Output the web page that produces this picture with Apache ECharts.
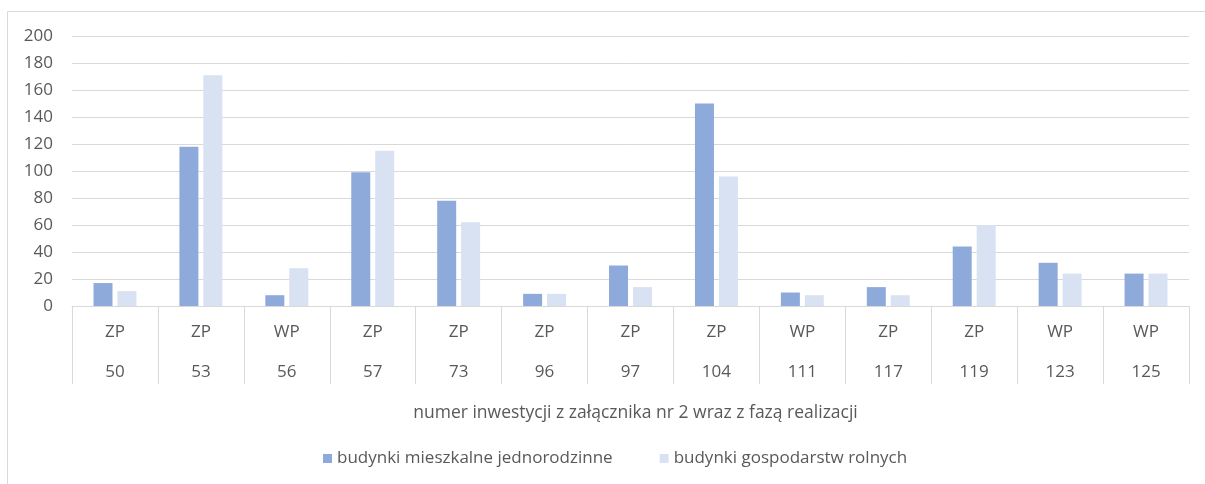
<!DOCTYPE html>
<html><head><meta charset="utf-8">
<script src="https://cdn.jsdelivr.net/npm/echarts@6/dist/echarts.min.js"></script>
<style>html,body{margin:0;padding:0;background:#fff}#c{width:1205px;height:484px}</style>
</head><body><div id="c"></div>
<script>
const phases = ['ZP','ZP','WP','ZP','ZP','ZP','ZP','ZP','WP','ZP','ZP','WP','WP'];
const numbers = ['50','53','56','57','73','96','97','104','111','117','119','123','125'];
const seriesNames = ['budynki mieszkalne jednorodzinne','budynki gospodarstw rolnych'];
const singleFamily = [17,118,8,99,78,9,30,150,10,14,44,32,24];
const farmBuildings = [11,171,28,115,62,9,14,96,8,8,60,24,24];
const yTicks = [0,20,40,60,80,100,120,140,160,180,200];
const axisTitle = 'numer inwestycji z załącznika nr 2 wraz z fazą realizacji';

const categories = phases.map((p,i)=>p+'\n'+numbers[i]);
const FONT = 'Open Sans';
const TXT = '#595959';
const chart = echarts.init(document.getElementById('c'), null, {renderer:'canvas'});
chart.setOption({
  animation:false,
  textStyle:{fontFamily:FONT},
  graphic:[{type:'rect',shape:{x:7.5,y:11.5,width:1210,height:480},style:{fill:'none',stroke:'#d9d9d9',lineWidth:1},silent:true,z:-1}],
  grid:{left:72,right:16,top:36,bottom:178},
  legend:{bottom:12,left:318,itemWidth:9,itemHeight:9,itemGap:47,icon:'rect',
    textStyle:{color:TXT,fontSize:17,fontFamily:FONT},data:seriesNames},
  xAxis:{type:'category',data:categories,
    axisLine:{show:true,lineStyle:{color:'#d9d9d9',width:1}},
    axisTick:{show:true,length:78,lineStyle:{color:'#d9d9d9',width:1}},
    axisLabel:{color:TXT,fontSize:17,fontFamily:FONT,lineHeight:40,margin:6,interval:0},
    name:axisTitle,nameLocation:'middle',nameGap:98,
    nameTextStyle:{color:TXT,fontSize:17.5,fontFamily:FONT,padding:[0,0,0,10]}},
  yAxis:{type:'value',min:yTicks[0],max:yTicks[yTicks.length-1],interval:20,
    axisLine:{show:false},axisTick:{show:false},
    axisLabel:{color:TXT,fontSize:17,fontFamily:FONT,margin:19},
    splitLine:{lineStyle:{color:'#d9d9d9',width:1}}},
  series:[
    {name:seriesNames[0],type:'bar',data:singleFamily,barWidth:19,barGap:'26%',itemStyle:{color:'#8eaadb'}},
    {name:seriesNames[1],type:'bar',data:farmBuildings,barWidth:19,itemStyle:{color:'#d9e2f3'}}
  ]
});
</script></body></html>
